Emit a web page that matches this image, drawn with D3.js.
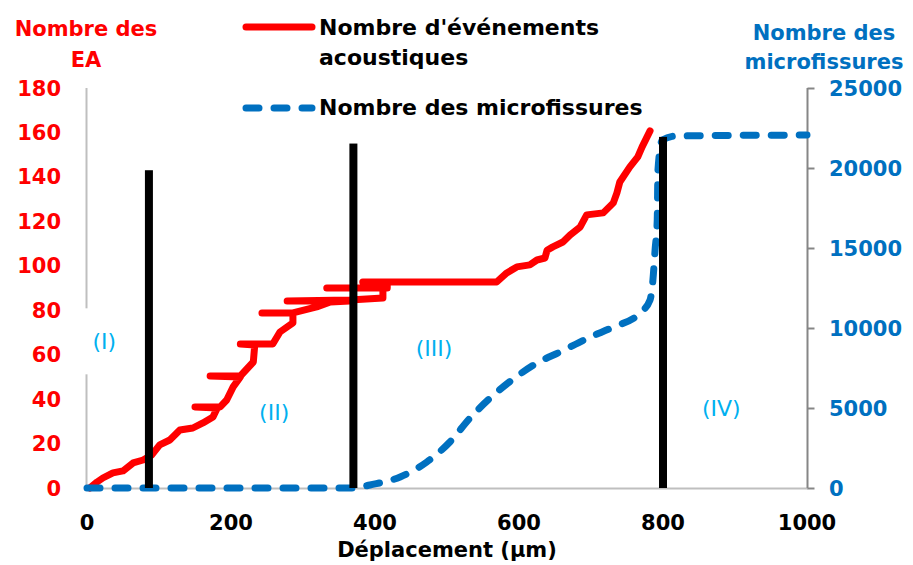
<!DOCTYPE html>
<html>
<head>
<meta charset="utf-8">
<script src="https://cdn.jsdelivr.net/npm/d3@7"></script>
<style>
  html, body { margin: 0; padding: 0; background: #fff; }
  svg { display: block; font-family: "DejaVu Sans", sans-serif; }
</style>
</head>
<body>
<svg id="chart" width="913" height="565"></svg>
<script>
// Acoustic events (left axis) vs displacement
const eaX = [4,14,22,36,50,64,78,90,101,115,129,147,161,175,181,150,185,194,203,213,171,213,231,233,213,258,268,286,286,243,286,319,338,365,278,365,411,411,333,417,417,383,569,583,597,615,625,636,639,647,661,671,685,694,717,731,736,740,754,765,771,782];
const eaY = [0,2.7,4.5,6.8,7.7,11.3,12.6,14.9,19.4,21.6,26.1,27,29.3,32,36,36.5,36.5,39.6,45.5,50,50.4,50.4,56.7,64.4,64.8,64.8,70.2,74.3,78.8,78.8,78.8,81.5,83.7,84.2,84.2,84.6,85.5,90,90,90,92.7,92.7,92.7,96.8,99.5,100.4,102.6,103.5,107,108.5,110.7,113.9,117.5,122.9,123.8,128.3,132.8,137.7,144.5,149,153.5,160.7];

// Micro-crack count (right axis) vs displacement
const mfX = [0,372,393,435,472,504,532,560,592,625,657,699,731,768,782,786,789,792,793,799,819,1000];
const mfY = [0,0,190,690,1625,2875,4375,5625,6810,7810,8500,9440,10060,10940,11750,13000,14875,16750,19875,21750,22000,22060];

// Phase boundaries
const phaseX = [86, 370, 800];
const phaseTop = [143, 155, 158];

// Phase labels
const phaseLabels = ["(I)", "(II)", "(III)", "(IV)"];
const phaseLabelX = [24, 260, 482, 881];
const phaseLabelY = [66, 34, 63, 36];

const xTicks = [0, 200, 400, 600, 800, 1000];
const yLeftTicks = [0, 20, 40, 60, 80, 100, 120, 140, 160, 180];
const yRightTicks = [0, 5000, 10000, 15000, 20000, 25000];

const RED = "#FF0000", BLUE = "#0070C0", LIGHTBLUE = "#00B0F0";

const svg = d3.select("#chart");
const x = d3.scaleLinear().domain([0, 1000]).range([87, 807]);
const yL = d3.scaleLinear().domain([0, 180]).range([488, 88]);
const yR = d3.scaleLinear().domain([0, 25000]).range([488, 88]);

// Axis lines
svg.append("line").attr("x1", 86.5).attr("x2", 86.5).attr("y1", 88).attr("y2", 488)
  .attr("stroke", "#BFBFBF").attr("stroke-width", 2);
svg.append("line").attr("x1", 86).attr("x2", 808).attr("y1", 488.5).attr("y2", 488.5)
  .attr("stroke", "#BFBFBF").attr("stroke-width", 2);

// Right axis with outward ticks
const rAxis = svg.append("g").attr("transform", "translate(807.5,0)")
  .call(d3.axisRight(yR).tickValues(yRightTicks).tickSize(7).tickFormat(""));
rAxis.select(".domain").attr("stroke", "#868686").attr("stroke-width", 2).attr("d", "M0,88V488");
rAxis.selectAll(".tick line").attr("stroke", "#868686").attr("stroke-width", 2);

// Tick labels
svg.append("g").selectAll("text").data(yLeftTicks).join("text")
  .attr("x", 61).attr("y", d => yL(d)).attr("dy", "0.36em")
  .attr("text-anchor", "end").attr("fill", RED)
  .attr("font-size", 21).attr("font-weight", "bold").text(d => d);
svg.append("g").selectAll("text").data(yRightTicks).join("text")
  .attr("x", 829).attr("y", d => yR(d)).attr("dy", "0.36em")
  .attr("text-anchor", "start").attr("fill", BLUE)
  .attr("font-size", 21).attr("font-weight", "bold").text(d => d);
svg.append("g").selectAll("text").data(xTicks).join("text")
  .attr("x", d => x(d)).attr("y", 530)
  .attr("text-anchor", "middle").attr("fill", "#000")
  .attr("font-size", 21).attr("font-weight", "bold").text(d => d);

// Axis titles
svg.append("text").attr("x", 447).attr("y", 557).attr("text-anchor", "middle")
  .attr("font-size", 21).attr("font-weight", "bold").attr("fill", "#000")
  .text("Déplacement (µm)");
const lt = svg.append("text").attr("text-anchor", "middle").attr("fill", RED)
  .attr("font-size", 21).attr("font-weight", "bold");
lt.append("tspan").attr("x", 86).attr("y", 36).text("Nombre des");
lt.append("tspan").attr("x", 86).attr("y", 67).text("EA");
const rt = svg.append("text").attr("text-anchor", "middle").attr("fill", BLUE)
  .attr("font-size", 21).attr("font-weight", "bold");
rt.append("tspan").attr("x", 824).attr("y", 40).text("Nombre des");
rt.append("tspan").attr("x", 824).attr("y", 69).text("microfissures");

// Phase labels on white boxes
const labels = svg.append("g");
phaseLabels.forEach((t, i) => {
  const cx = x(phaseLabelX[i]), cy = yL(phaseLabelY[i]);
  labels.append("rect").attr("x", cx - 22).attr("y", cy - 33).attr("width", 44).attr("height", 66)
    .attr("fill", "#fff");
  labels.append("text").attr("x", cx).attr("y", cy).attr("dy", "0.36em")
    .attr("text-anchor", "middle").attr("fill", LIGHTBLUE)
    .attr("font-size", 22).text(t);
});

// Curves
const redLine = d3.line().x(d => x(d[0])).y(d => yL(d[1]));
svg.append("path").datum(d3.zip(eaX, eaY)).attr("d", redLine)
  .attr("fill", "none").attr("stroke", RED).attr("stroke-width", 7)
  .attr("stroke-linejoin", "round").attr("stroke-linecap", "round");

const blueLine = d3.line().x(d => x(d[0])).y(d => yR(d[1])).curve(d3.curveMonotoneX);
svg.append("path").datum(d3.zip(mfX, mfY)).attr("d", blueLine)
  .attr("fill", "none").attr("stroke", BLUE).attr("stroke-width", 7)
  .attr("stroke-dasharray", "13,15").attr("stroke-linecap", "round").attr("stroke-linejoin", "round");

// Phase boundaries
svg.append("g").selectAll("rect").data(d3.zip(phaseX, phaseTop)).join("rect")
  .attr("x", d => x(d[0]) - 4).attr("width", 8)
  .attr("y", d => yL(d[1])).attr("height", d => yL(0) - yL(d[1]))
  .attr("fill", "#000");

// Legend
svg.append("line").attr("x1", 246).attr("x2", 312).attr("y1", 27).attr("y2", 27)
  .attr("stroke", RED).attr("stroke-width", 7).attr("stroke-linecap", "round");
svg.append("line").attr("x1", 246).attr("x2", 312).attr("y1", 108).attr("y2", 108)
  .attr("stroke", BLUE).attr("stroke-width", 7).attr("stroke-linecap", "round")
  .attr("stroke-dasharray", "13,15");
const l1 = svg.append("text").attr("font-size", 22).attr("font-weight", "bold").attr("fill", "#000");
l1.append("tspan").attr("x", 319).attr("y", 35).text("Nombre d'événements");
l1.append("tspan").attr("x", 319).attr("y", 65).text("acoustiques");
svg.append("text").attr("x", 319).attr("y", 115).attr("font-size", 22).attr("font-weight", "bold")
  .attr("fill", "#000").text("Nombre des microfissures");
</script>
</body>
</html>
